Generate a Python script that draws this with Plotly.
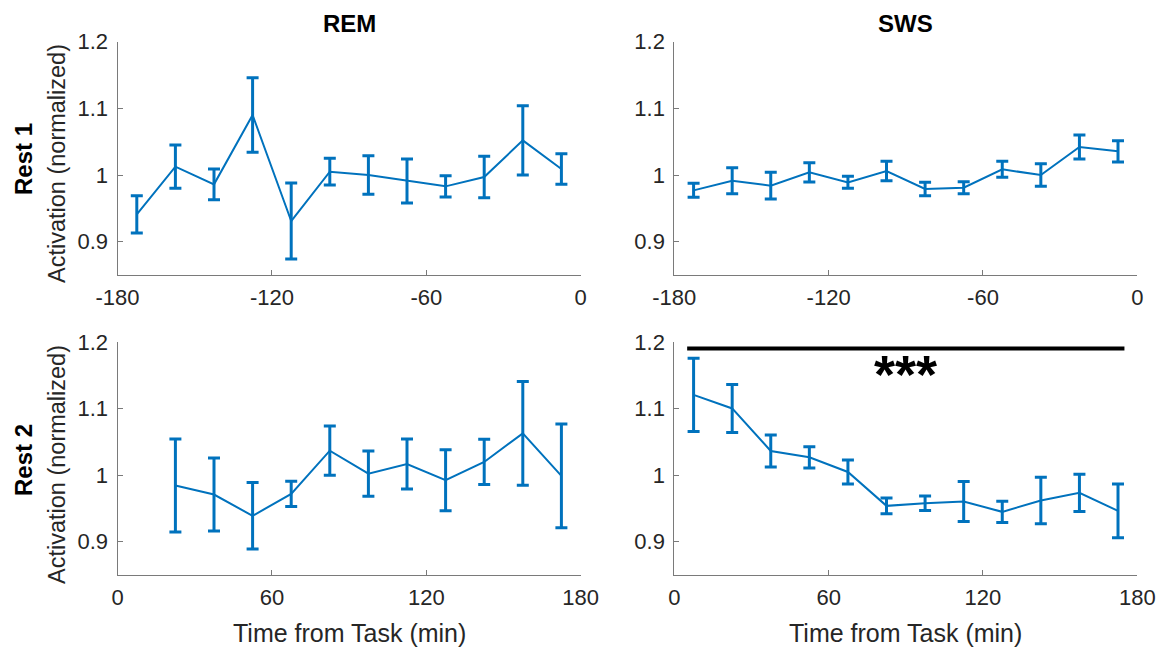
import plotly.graph_objects as go

# ---------------- data ----------------
t_pre = [-172.5, -157.5, -142.5, -127.5, -112.5, -97.5, -82.5, -67.5, -52.5, -37.5, -22.5, -7.5]
t_post_rem = [22.5, 37.5, 52.5, 67.5, 82.5, 97.5, 112.5, 127.5, 142.5, 157.5, 172.5]
t_post_sws = [7.5, 22.5, 37.5, 52.5, 67.5, 82.5, 97.5, 112.5, 127.5, 142.5, 157.5, 172.5]

rest1_rem_mean = [0.941, 1.0125, 0.986, 1.090, 0.931, 1.005, 1.000, 0.991, 0.983, 0.997, 1.052, 1.009]
rest1_rem_err = [0.028, 0.0325, 0.023, 0.056, 0.057, 0.020, 0.029, 0.033, 0.016, 0.031, 0.052, 0.023]

rest1_sws_mean = [0.977, 0.9915, 0.984, 1.004, 0.989, 1.006, 0.979, 0.981, 1.0085, 1.000, 1.042, 1.0355]
rest1_sws_err = [0.0105, 0.0195, 0.020, 0.0145, 0.009, 0.0145, 0.010, 0.009, 0.012, 0.017, 0.018, 0.016]

rest2_rem_mean = [0.9845, 0.971, 0.939, 0.972, 1.037, 1.0025, 1.017, 0.9925, 1.020, 1.063, 0.999]
rest2_rem_err = [0.070, 0.055, 0.050, 0.019, 0.037, 0.034, 0.0375, 0.046, 0.034, 0.078, 0.078]

rest2_sws_mean = [1.121, 1.1005, 1.0365, 1.027, 1.005, 0.954, 0.958, 0.9605, 0.945, 0.962, 0.9735, 0.9465]
rest2_sws_err = [0.055, 0.036, 0.024, 0.016, 0.018, 0.012, 0.011, 0.030, 0.016, 0.035, 0.028, 0.0405]

sig_x = [5, 175]
sig_y = [1.1905, 1.1905]
sig_label = "***"
sig_label_x = 90
sig_label_y = 1.163

y_ticks = [0.9, 1.0, 1.1, 1.2]
y_ticklabels = ["0.9", "1", "1.1", "1.2"]
x_ticks_pre = [-180, -120, -60, 0]
x_ticks_post = [0, 60, 120, 180]

col_titles = ["REM", "SWS"]
row_titles = ["Rest 1", "Rest 2"]
y_title = "Activation (normalized)"
x_title = "Time from Task (min)"

# ---------------- layout geometry ----------------
W, H = 1164, 648
def px(x):
    return x / W
def py(y):
    return 1 - y / H

xdom = [[px(117.5), px(580.7)], [px(674.3), px(1137.3)]]
ydom = [[py(275), py(41.7)], [py(575), py(342.3)]]

BLUE = "#0072BD"
AXC = "#7a7a7a"
TXT = "#262626"
FONT = "Liberation Sans, Arial, Helvetica, sans-serif"

fig = go.Figure()

panels = [
    (0, 0, t_pre, rest1_rem_mean, rest1_rem_err, x_ticks_pre, [-180, 0]),
    (0, 1, t_pre, rest1_sws_mean, rest1_sws_err, x_ticks_pre, [-180, 0]),
    (1, 0, t_post_rem, rest2_rem_mean, rest2_rem_err, x_ticks_post, [0, 180]),
    (1, 1, t_post_sws, rest2_sws_mean, rest2_sws_err, x_ticks_post, [0, 180]),
]

for i, (r, c, xs, ys, es, xt, xr) in enumerate(panels):
    n = i + 1
    xa = "x" if n == 1 else f"x{n}"
    ya = "y" if n == 1 else f"y{n}"
    fig.add_trace(go.Scatter(
        x=xs, y=ys, mode="lines",
        line=dict(color=BLUE, width=2),
        error_y=dict(type="data", array=es, visible=True, color=BLUE, thickness=3, width=6),
        xaxis=xa, yaxis=ya, showlegend=False, hoverinfo="skip",
    ))
    axis_common = dict(showline=True, linecolor=AXC, linewidth=1, ticks="inside", ticklen=5,
                       tickcolor=AXC, tickwidth=1, showgrid=False, zeroline=False,
                       automargin=False,
                       tickfont=dict(family=FONT, size=22, color=TXT))
    fig.layout[f"xaxis{'' if n == 1 else n}"] = dict(
        domain=xdom[c], anchor=ya, range=xr, tickvals=xt, ticktext=[str(v) for v in xt],
        ticklabelstandoff=3, **axis_common)
    fig.layout[f"yaxis{'' if n == 1 else n}"] = dict(
        domain=ydom[r], anchor=xa, range=[0.85, 1.2], tickvals=y_ticks, ticktext=y_ticklabels,
        ticklabelstandoff=4, **axis_common)

# significance bar on Rest 2 / SWS
fig.add_trace(go.Scatter(x=sig_x, y=sig_y, mode="lines", line=dict(color="black", width=4),
                         xaxis="x4", yaxis="y4", showlegend=False, hoverinfo="skip"))

ann = []
ann.append(dict(x=sig_label_x, y=sig_label_y, xref="x4", yref="y4", text=f"<b>{sig_label}</b>",
                showarrow=False, font=dict(family=FONT, size=54, color="black"),
                xanchor="center", yanchor="middle", yshift=-7))
# column titles
for c, t in enumerate(col_titles):
    ann.append(dict(x=(xdom[c][0] + xdom[c][1]) / 2, y=py(23), xref="paper", yref="paper",
                    text=f"<b>{t}</b>", showarrow=False, xanchor="center", yanchor="middle",
                    font=dict(family=FONT, size=24, color="black")))
# row titles and y titles
for r, t in enumerate(row_titles):
    yc = [159, 460][r]
    ann.append(dict(x=px(23), y=py(yc), xref="paper", yref="paper", text=f"<b>{t}</b>",
                    showarrow=False, textangle=-90, xanchor="center", yanchor="middle",
                    font=dict(family=FONT, size=24, color="black")))
    ann.append(dict(x=px(57), y=py([164, 465][r]), xref="paper", yref="paper", text=y_title,
                    showarrow=False, textangle=-90, xanchor="center", yanchor="middle",
                    font=dict(family=FONT, size=23.5, color=TXT)))
# x titles
for c in range(2):
    ann.append(dict(x=(xdom[c][0] + xdom[c][1]) / 2, y=py(633), xref="paper", yref="paper",
                    text=x_title, showarrow=False, xanchor="center", yanchor="middle",
                    font=dict(family=FONT, size=25, color=TXT)))

fig.update_layout(
    width=W, height=H, margin=dict(l=0, r=0, t=0, b=0, autoexpand=False),
    plot_bgcolor="white", paper_bgcolor="white", annotations=ann,
    font=dict(family=FONT),
)

fig.write_html("out.html", config={"displayModeBar": False})
